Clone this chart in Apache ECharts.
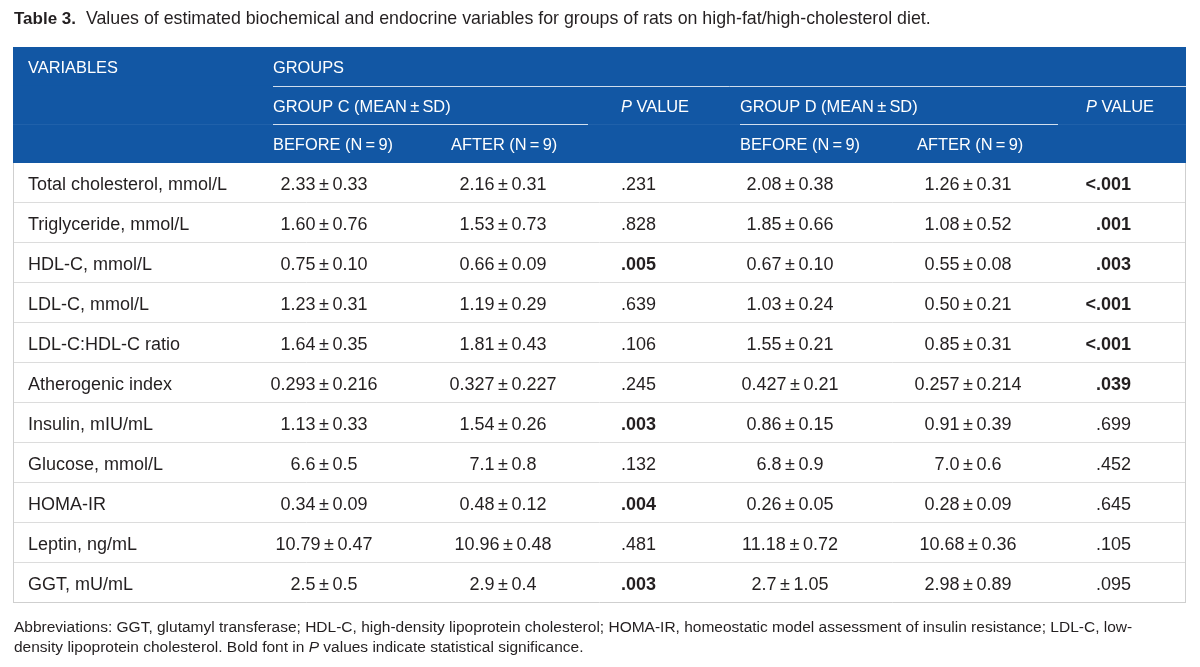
<!DOCTYPE html>
<html>
<head>
<meta charset="utf-8">
<script src="https://cdn.jsdelivr.net/npm/echarts@6/dist/echarts.min.js"></script>
<style>
html,body{margin:0;padding:0;background:#fff;}
#chart{width:1200px;height:667px;}
</style>
</head>
<body>
<div id="chart"></div>
<script>
// ---- DATA ----
const variables = ['Total cholesterol, mmol/L', 'Triglyceride, mmol/L', 'HDL-C, mmol/L', 'LDL-C, mmol/L', 'LDL-C:HDL-C ratio', 'Atherogenic index', 'Insulin, mIU/mL', 'Glucose, mmol/L', 'HOMA-IR', 'Leptin, ng/mL', 'GGT, mU/mL'];
const groupCBefore = ['2.33±0.33', '1.60±0.76', '0.75±0.10', '1.23±0.31', '1.64±0.35', '0.293±0.216', '1.13±0.33', '6.6±0.5', '0.34±0.09', '10.79±0.47', '2.5±0.5'];
const groupCAfter = ['2.16±0.31', '1.53±0.73', '0.66±0.09', '1.19±0.29', '1.81±0.43', '0.327±0.227', '1.54±0.26', '7.1±0.8', '0.48±0.12', '10.96±0.48', '2.9±0.4'];
const pValueC = ['.231', '.828', '.005', '.639', '.106', '.245', '.003', '.132', '.004', '.481', '.003'];
const groupDBefore = ['2.08±0.38', '1.85±0.66', '0.67±0.10', '1.03±0.24', '1.55±0.21', '0.427±0.21', '0.86±0.15', '6.8±0.9', '0.26±0.05', '11.18±0.72', '2.7±1.05'];
const groupDAfter = ['1.26±0.31', '1.08±0.52', '0.55±0.08', '0.50±0.21', '0.85±0.31', '0.257±0.214', '0.91±0.39', '7.0±0.6', '0.28±0.09', '10.68±0.36', '2.98±0.89'];
const pValueD = ['<.001', '.001', '.003', '<.001', '<.001', '.039', '.699', '.452', '.645', '.105', '.095'];
const headerRow1 = ['VARIABLES', 'GROUPS'];
const headerRow2 = ['GROUP C (MEAN±SD)', '{i|P} VALUE', 'GROUP D (MEAN±SD)', '{i|P} VALUE'];
const headerRow3 = ['BEFORE (N=9)', 'AFTER (N=9)', 'BEFORE (N=9)', 'AFTER (N=9)'];
const captionLabel = 'Table 3.';
const captionText = 'Values of estimated biochemical and endocrine variables for groups of rats on high-fat/high-cholesterol diet.';
const footnoteLines = [
  'Abbreviations: GGT, glutamyl transferase; HDL-C, high-density lipoprotein cholesterol; HOMA-IR, homeostatic model assessment of insulin resistance; LDL-C, low-',
  'density lipoprotein cholesterol. Bold font in {i|P} values indicate statistical significance.'
];
const SIG_LEVEL = 0.05;

// ---- LAYOUT / STYLE ----
const FONT = '"Liberation Sans", Arial, Helvetica, sans-serif';
const TEXT = '#231f20';
const BLUE = '#1257a4';
const ROWLINE = '#dcdcdc';
const BORDER = '#cfcfcf';
const TABLE_L = 13, TABLE_R = 1186;
const TEXT_DY = 2;
const HEAD_FS = 16.4;
// body column anchors [x, align]
const bodyCols = [[28, 'left'], [324, 'center'], [503, 'center'], [621, 'left'], [790, 'center'], [968, 'center'], [1131, 'right']];
const headerPos1 = [28, 273];
const headerPos2 = [273, 621, 740, 1086];
const headerPos3 = [273, 451, 740, 917];
const headerLine2 = [[273, TABLE_R]];
const headerLine3 = [[273, 588], [740, 1058]];

const fmt = s => s.replace('±', '\u2009±\u2009').replace(/=/g, '\u2009=\u2009');
const isSig = p => p.indexOf('<') === 0 || parseFloat(p) < SIG_LEVEL;

const bodyColumns = [variables, groupCBefore, groupCAfter, pValueC, groupDBefore, groupDAfter, pValueD];

function textEl(x, y, text, align, opts) {
  opts = opts || {};
  return {
    type: 'text', x: x, y: y + TEXT_DY,
    style: {
      text: text, fill: opts.fill || TEXT,
      fontSize: opts.fontSize || 18, fontFamily: FONT,
      fontWeight: opts.bold ? 'bold' : 'normal',
      align: align, verticalAlign: 'middle',
      textAlign: align, textVerticalAlign: 'middle',
      rich: opts.rich
    }
  };
}

function renderBody(params, api) {
  const i = api.value(1);
  const c = api.coord([0, i]);
  const h = api.size([0, 1])[1];
  const y0 = c[1] - h / 2;
  const xL = api.coord([TABLE_L, i])[0];
  const xR = api.coord([TABLE_R, i])[0];
  const last = i === variables.length - 1;
  const ch = [
    {type: 'rect', shape: {x: xL, y: y0, width: xR - xL, height: h}, style: {fill: '#fff'}},
    {type: 'line', shape: {x1: xL, y1: Math.round(y0 + h) - 0.5, x2: xR, y2: Math.round(y0 + h) - 0.5}, style: {stroke: last ? BORDER : ROWLINE, lineWidth: 1}},
    {type: 'line', shape: {x1: xL + 0.5, y1: y0, x2: xL + 0.5, y2: y0 + h}, style: {stroke: BORDER, lineWidth: 1}},
    {type: 'line', shape: {x1: xR - 0.5, y1: y0, x2: xR - 0.5, y2: y0 + h}, style: {stroke: BORDER, lineWidth: 1}}
  ];
  bodyColumns.forEach((col, k) => {
    const x = api.coord([bodyCols[k][0], i])[0];
    const bold = (k === 3 || k === 6) && isSig(col[i]);
    ch.push(textEl(x, c[1], fmt(col[i]), bodyCols[k][1], {bold: bold}));
  });
  return {type: 'group', children: ch};
}

const headerRich = {i: {fontStyle: 'italic', fontSize: HEAD_FS, fontFamily: FONT, fill: '#fff', color: '#fff'}};
const headerRows = [[headerRow1, headerPos1, []], [headerRow2, headerPos2, headerLine2], [headerRow3, headerPos3, headerLine3]];

function renderHeader(params, api) {
  const i = api.value(1);
  const c = api.coord([0, i]);
  const h = api.size([0, 1])[1];
  const y0 = c[1] - h / 2;
  const xL = api.coord([TABLE_L, i])[0];
  const xR = api.coord([TABLE_R, i])[0];
  const row = headerRows[i];
  const ch = [{type: 'rect', shape: {x: xL, y: y0, width: xR - xL, height: h + 0.5}, style: {fill: BLUE}}];
  row[2].forEach(seg => {
    const yl = Math.round(y0) + 0.5;
    ch.push({type: 'line', shape: {x1: api.coord([seg[0], i])[0], y1: yl, x2: api.coord([seg[1], i])[0], y2: yl}, style: {stroke: 'rgba(255,255,255,0.8)', lineWidth: 1}});
  });
  row[0].forEach((t, k) => {
    ch.push(textEl(api.coord([row[1][k], i])[0], c[1], fmt(t), 'left', {fill: '#fff', fontSize: HEAD_FS, rich: headerRich}));
  });
  return {type: 'group', children: ch};
}

const chart = echarts.init(document.getElementById('chart'), null, {renderer: 'canvas'});
const hiddenX = (idx) => ({type: 'value', gridIndex: idx, min: 0, max: 1200, show: false});
chart.setOption({
  animation: false,
  backgroundColor: '#fff',
  title: [
    {
      left: 14, top: 10, padding: 0,
      text: '{b|' + captionLabel + '}  ' + captionText,
      textStyle: {
        fontSize: 17.8, fontFamily: FONT, color: TEXT, fontWeight: 'normal',
        rich: {b: {fontWeight: 'bold', fontSize: 17, fontFamily: FONT, color: TEXT}}
      }
    },
    {
      left: 14, top: 618, padding: 0,
      text: footnoteLines.join('\n'),
      textStyle: {
        fontSize: 15.5, lineHeight: 19.5, fontFamily: FONT, color: TEXT, fontWeight: 'normal',
        rich: {i: {fontStyle: 'italic', fontSize: 15.5, lineHeight: 19.5, fontFamily: FONT, color: TEXT}}
      }
    }
  ],
  grid: [
    {left: 0, width: 1200, top: 47, height: 116},
    {left: 0, width: 1200, top: 163, height: 440}
  ],
  xAxis: [hiddenX(0), hiddenX(1)],
  yAxis: [
    {type: 'category', gridIndex: 0, data: ['h1', 'h2', 'h3'], inverse: true, show: false},
    {type: 'category', gridIndex: 1, data: variables, inverse: true, show: false}
  ],
  series: [
    {
      type: 'custom', xAxisIndex: 0, yAxisIndex: 0,
      renderItem: renderHeader,
      encode: {x: 0, y: 1},
      data: headerRows.map((r, i) => [0, i]),
      silent: true
    },
    {
      type: 'custom', xAxisIndex: 1, yAxisIndex: 1,
      renderItem: renderBody,
      encode: {x: 0, y: 1},
      data: variables.map((v, i) => [0, i]),
      silent: true
    }
  ]
});
</script>
</body>
</html>
